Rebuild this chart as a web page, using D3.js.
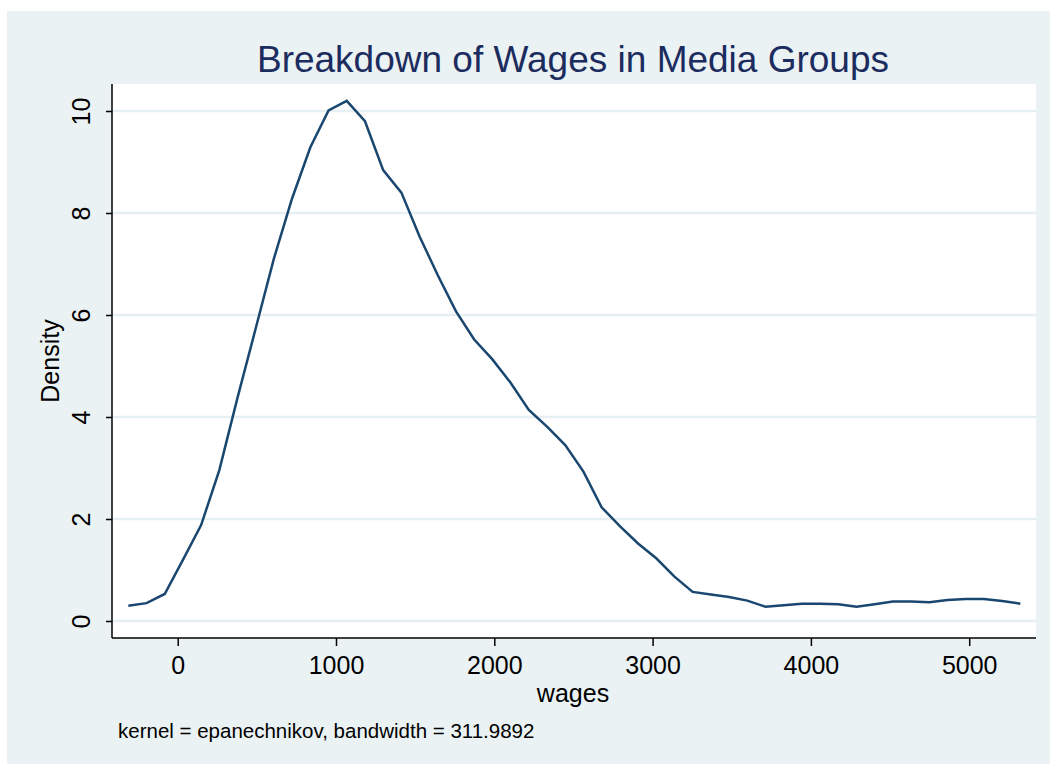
<!DOCTYPE html>
<html>
<head>
<meta charset="utf-8">
<script src="https://cdn.jsdelivr.net/npm/d3@7"></script>
<style>
  html, body { margin: 0; padding: 0; background: #ffffff; }
  svg { display: block; font-family: "Liberation Sans", Arial, Helvetica, sans-serif; }
</style>
</head>
<body>
<svg id="chart" width="1050" height="766"></svg>
<script>
// ---- data ----
const wages = [-312, -197, -82, 33, 148, 263, 378, 493, 608, 723,
               838, 953, 1068, 1183, 1298, 1413, 1528, 1643, 1758, 1873,
               1988, 2103, 2218, 2333, 2448, 2563, 2678, 2793, 2908, 3023,
               3138, 3253, 3368, 3483, 3598, 3713, 3828, 3943, 4058, 4173,
               4288, 4403, 4518, 4633, 4748, 4863, 4978, 5093, 5208, 5323];
const density = [0.30, 0.35, 0.53, 1.20, 1.88, 2.96, 4.38, 5.74, 7.11, 8.29,
                 9.29, 10.01, 10.20, 9.80, 8.84, 8.40, 7.54, 6.78, 6.07, 5.52,
                 5.13, 4.67, 4.14, 3.81, 3.45, 2.93, 2.23, 1.86, 1.52, 1.23,
                 0.87, 0.57, 0.52, 0.47, 0.40, 0.28, 0.31, 0.34, 0.34, 0.33,
                 0.28, 0.33, 0.38, 0.38, 0.37, 0.41, 0.43, 0.43, 0.39, 0.34];
const xTicks = [0, 1000, 2000, 3000, 4000, 5000];
const yTicks = [0, 2, 4, 6, 8, 10];
const titleText = "Breakdown of Wages in Media Groups";
const xTitle = "wages";
const yTitle = "Density";
const noteText = "kernel = epanechnikov, bandwidth = 311.9892";

// ---- layout ----
const svg = d3.select("#chart");
const plot = { left: 112, right: 1036, top: 84, bottom: 638 };

const x = d3.scaleLinear().domain([0, 5000]).range([177.7, 969.2]);
const y = d3.scaleLinear().domain([0, 10]).range([621, 111]);

// outer graph region
svg.append("rect").attr("x", 7).attr("y", 11).attr("width", 1043).attr("height", 753)
  .attr("fill", "#EAF2F3");

// plot region
svg.append("rect").attr("x", plot.left).attr("y", plot.top)
  .attr("width", plot.right - plot.left).attr("height", plot.bottom - plot.top)
  .attr("fill", "#ffffff");

// gridlines
svg.append("g").selectAll("line").data(yTicks).join("line")
  .attr("x1", plot.left).attr("x2", plot.right)
  .attr("y1", d => y(d)).attr("y2", d => y(d))
  .attr("stroke", "#E6EFF1").attr("stroke-width", 2.5);

// density curve
const line = d3.line().x((d, i) => x(wages[i])).y(d => y(d));
svg.append("path").datum(density)
  .attr("d", line)
  .attr("fill", "none").attr("stroke", "#1A476F").attr("stroke-width", 2.5)
  .attr("stroke-linejoin", "miter");

// axes
const xAxis = d3.axisBottom(x).tickValues(xTicks).tickSize(8).tickPadding(10).tickFormat(d3.format("d"));
const gx = svg.append("g").attr("transform", `translate(0,${plot.bottom})`).call(xAxis);
gx.select(".domain").remove();
gx.append("line").attr("x1", plot.left).attr("x2", plot.right).attr("y1", 0).attr("y2", 0)
  .attr("stroke", "#000").attr("stroke-width", 1.5);
gx.selectAll(".tick line").attr("stroke", "#000").attr("stroke-width", 1.5);
gx.selectAll(".tick text").attr("font-size", 25).attr("fill", "#000")
  .attr("font-family", "Liberation Sans, Arial, sans-serif");

const yAxis = d3.axisLeft(y).tickValues(yTicks).tickSize(6).tickPadding(0).tickFormat(d3.format("d"));
const gy = svg.append("g").attr("transform", `translate(${plot.left},0)`).call(yAxis);
gy.select(".domain").remove();
gy.append("line").attr("x1", 0).attr("x2", 0).attr("y1", plot.top).attr("y2", plot.bottom)
  .attr("stroke", "#000").attr("stroke-width", 1.5);
gy.selectAll(".tick line").attr("stroke", "#000").attr("stroke-width", 1.5);
gy.selectAll(".tick text")
  .attr("font-size", 25).attr("fill", "#000")
  .attr("font-family", "Liberation Sans, Arial, sans-serif")
  .attr("x", null).attr("dy", null)
  .attr("text-anchor", "middle")
  .attr("transform", "translate(-22,0) rotate(-90)");

// titles
svg.append("text").attr("x", 573).attr("y", 72)
  .attr("text-anchor", "middle").attr("font-size", 37).attr("fill", "#1C2C5E")
  .text(titleText);

svg.append("text").attr("x", 573).attr("y", 702)
  .attr("text-anchor", "middle").attr("font-size", 25).attr("fill", "#000")
  .text(xTitle);

svg.append("text").attr("transform", "translate(59,361) rotate(-90)")
  .attr("text-anchor", "middle").attr("font-size", 25).attr("fill", "#000")
  .text(yTitle);

svg.append("text").attr("x", 118).attr("y", 738)
  .attr("text-anchor", "start").attr("font-size", 20.5).attr("fill", "#000")
  .text(noteText);
</script>
</body>
</html>
